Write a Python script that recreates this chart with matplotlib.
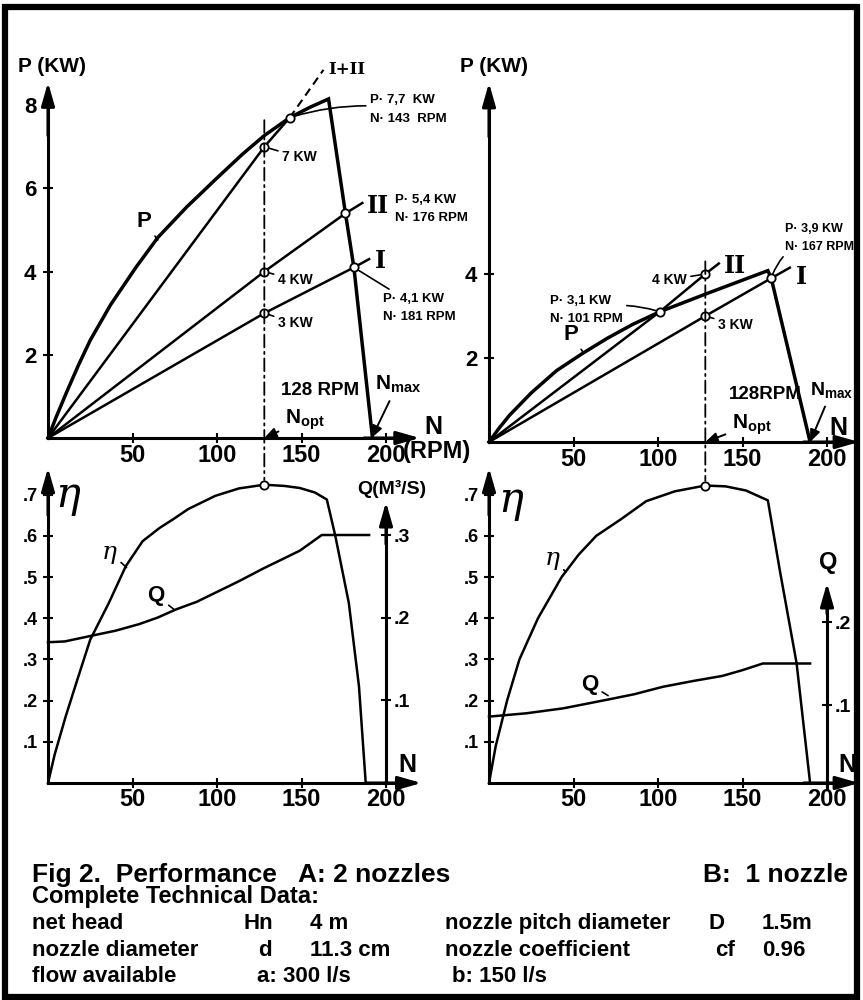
import matplotlib
matplotlib.use("Agg")
import matplotlib.pyplot as plt
from matplotlib.patches import ConnectionPatch, Rectangle

plt.rcParams["font.family"] = ["Liberation Sans", "DejaVu Sans"]
plt.rcParams["font.weight"] = "bold"
plt.rcParams["mathtext.fontset"] = "custom"
plt.rcParams["mathtext.rm"] = "Liberation Sans:bold"
plt.rcParams["mathtext.it"] = "Liberation Sans:bold"
plt.rcParams["mathtext.bf"] = "Liberation Sans:bold"

# ------------------------------------------------------------------ data
N_OPT = 128

# A: two nozzles -- shaft power P (kW) against speed N (RPM)
a_p_speed = [0, 5, 11, 18, 25, 37, 52, 65, 82, 100, 115, 128, 143, 155, 166, 176, 181, 192]
a_p_power = [0, 0.52, 1.10, 1.75, 2.35, 3.20, 4.10, 4.82, 5.55, 6.25, 6.82, 7.27, 7.70, 7.95, 8.15, 5.40, 4.10, 0]
a_one_speed = [0, 128, 181, 190]
a_one_power = [0, 3.0, 4.1, 4.3]
a_two_speed = [0, 128, 176, 186]
a_two_power = [0, 4.0, 5.4, 5.65]
a_sum_speed = [0, 128, 143]
a_sum_power = [0, 7.0, 7.7]
a_sum_ext_speed = [143, 163]
a_sum_ext_power = [7.7, 8.85]
a_mark_speed = [128, 143, 128, 176, 128, 181]
a_mark_power = [7.0, 7.7, 4.0, 5.4, 3.0, 4.1]

# A: efficiency and flow Q (m3/s)
a_eta_speed = [0, 4, 10.5, 18, 25, 36, 46, 56, 66, 74, 83, 99, 113, 128, 140, 149, 158, 165, 170, 178, 184, 188]
a_eta = [0, 0.07, 0.162, 0.259, 0.348, 0.437, 0.526, 0.587, 0.619, 0.640, 0.665, 0.697, 0.715, 0.724, 0.721, 0.716, 0.705, 0.688, 0.600, 0.437, 0.235, 0.0]
a_q_speed = [0, 10, 26, 40, 54, 65, 76, 88, 99, 113, 127, 138, 149, 162, 190]
a_q = [0.170, 0.171, 0.178, 0.184, 0.192, 0.200, 0.210, 0.219, 0.230, 0.244, 0.259, 0.270, 0.281, 0.300, 0.300]

# B: one nozzle -- shaft power
b_p_speed = [0, 6, 12, 25, 40, 55, 70, 85, 101, 128, 165, 167, 190]
b_p_power = [0, 0.33, 0.63, 1.17, 1.70, 2.10, 2.47, 2.80, 3.10, 3.52, 4.08, 3.90, 0]
b_one_speed = [0, 128, 167, 178]
b_one_power = [0, 3.0, 3.9, 4.15]
b_two_speed = [0, 101, 128, 136]
b_two_power = [0, 3.1, 4.0, 4.25]
b_mark_speed = [101, 128, 128, 167]
b_mark_power = [3.1, 4.0, 3.0, 3.9]

# B: efficiency and flow
b_eta_speed = [0, 4, 10.7, 18, 29, 43, 53, 63.5, 78, 93, 110, 128, 140, 152, 165, 172, 182, 190]
b_eta = [0, 0.09, 0.20, 0.30, 0.40, 0.50, 0.554, 0.60, 0.64, 0.684, 0.708, 0.722, 0.720, 0.710, 0.686, 0.518, 0.291, 0]
b_q_speed = [0, 22, 44, 69, 86, 103, 121, 138, 150, 162, 190]
b_q = [0.086, 0.090, 0.096, 0.106, 0.113, 0.122, 0.129, 0.135, 0.142, 0.150, 0.150]

speed_ticks = [50, 100, 150, 200]
power_ticks = [2, 4, 6, 8]
eta_ticks = [0.1, 0.2, 0.3, 0.4, 0.5, 0.6, 0.7]
eta_ticklabels = [".1", ".2", ".3", ".4", ".5", ".6", ".7"]

# ---------------------------------------------------------------- layout
W, H = 863, 1000
fig = plt.figure(figsize=(W / 100, H / 100), dpi=100)
fig.patch.set_facecolor("white")

LW_AXIS = 2.2
LW_THICK = 2.5
LW_THIN = 1.8


def axes_at(x0, xs, xlim, y0, ys, ylim):
    """Axes whose data origin sits at pixel (x0, y0) with xs/ys pixels per unit."""
    left = x0 + xs * xlim[0]
    right = x0 + xs * xlim[1]
    bottom = y0 - ys * ylim[0]
    top = y0 - ys * ylim[1]
    ax = fig.add_axes([left / W, 1 - bottom / H, (right - left) / W, (bottom - top) / H])
    ax.set_xlim(xlim)
    ax.set_ylim(ylim)
    ax.patch.set_visible(False)
    return ax, bottom, top


def arrow_head(ax, start, end):
    ax.annotate("", xy=end, xytext=start, annotation_clip=False,
                arrowprops=dict(arrowstyle="-|>,head_length=0.7,head_width=0.2",
                                color="k", lw=LW_AXIS, shrinkA=0, shrinkB=0,
                                mutation_scale=20))


def frame(ax, xmax, ymax, yticks, yticklabels, ysize, xpad, ypad):
    for s in ("top", "right"):
        ax.spines[s].set_visible(False)
    for s in ("left", "bottom"):
        ax.spines[s].set_position(("data", 0))
        ax.spines[s].set_linewidth(LW_AXIS)
    ax.spines["left"].set_bounds(0, ymax * 0.95)
    ax.spines["bottom"].set_bounds(0, xmax * 0.95)
    ax.set_xticks(speed_ticks)
    ax.set_xticklabels([str(v) for v in speed_ticks])
    ax.set_yticks(yticks)
    ax.set_yticklabels(yticklabels)
    ax.tick_params(direction="inout", length=7, width=1.5)
    ax.tick_params(axis="x", labelsize=17, pad=xpad)
    ax.tick_params(axis="y", labelsize=ysize, pad=ypad)
    arrow_head(ax, (0, ymax * 0.85), (0, ymax))
    arrow_head(ax, (xmax * 0.85, 0), (xmax, 0))


def flow_axis(ax, bottom_px, top_px, q0_px, q_scale, qmax, qticks, qlabels):
    axq = ax.twinx()
    axq.set_ylim((q0_px - bottom_px) / q_scale, (q0_px - top_px) / q_scale)
    for s in ("top", "left", "bottom"):
        axq.spines[s].set_visible(False)
    axq.spines["right"].set_position(("data", 200))
    axq.spines["right"].set_linewidth(LW_AXIS)
    axq.spines["right"].set_bounds(0, qmax * 0.93)
    axq.set_yticks(qticks)
    axq.set_yticklabels(qlabels)
    axq.tick_params(axis="y", direction="inout", length=7, width=1.5, labelsize=14, pad=2)
    arrow_head(axq, (200, qmax * 0.85), (200, qmax))
    return axq


def marks(ax, xs, ys):
    ax.plot(xs, ys, "o", ms=6, mfc="white", mec="k", mew=1.3, zorder=6, clip_on=False)


def leader(ax, text, xy, xytext, size=10, ha="left", va="center", rad=0.0, gap=3, **kw):
    ax.annotate(text, xy=xy, xytext=xytext, fontsize=size, ha=ha, va=va,
                annotation_clip=False,
                arrowprops=dict(arrowstyle="-", lw=1.2, color="k", shrinkA=1, shrinkB=gap,
                                connectionstyle=f"arc3,rad={rad}"), **kw)


def pointer(ax, text, xy, xytext, size=15):
    ax.annotate(text, xy=xy, xytext=xytext, fontsize=size, ha="center", va="center",
                annotation_clip=False,
                arrowprops=dict(arrowstyle="-|>,head_length=0.6,head_width=0.25", lw=1.4,
                                color="k", shrinkA=3, shrinkB=0, mutation_scale=12))


ROMAN = dict(family="DejaVu Serif", weight="bold")
ETA = dict(family="DejaVu Serif", style="italic", weight="normal")

# ------------------------------------------------- A: power (top left)
axA, _, _ = axes_at(48, 1.69, (-14, 226), 438, 41.6, (-0.55, 9.1))
frame(axA, 220, 8.55, power_ticks, [str(v) for v in power_ticks], 16, 1, 5)
axA.plot(a_p_speed, a_p_power, color="k", lw=LW_THICK, solid_joinstyle="miter")
axA.plot(a_one_speed, a_one_power, color="k", lw=LW_THIN)
axA.plot(a_two_speed, a_two_power, color="k", lw=LW_THIN)
axA.plot(a_sum_speed, a_sum_power, color="k", lw=LW_THIN)
axA.plot(a_sum_ext_speed, a_sum_ext_power, color="k", lw=1.5, ls=(0, (4, 2.5)))
marks(axA, a_mark_speed, a_mark_power)

axA.text(-17.5, 8.94, "P (KW)", fontsize=15, ha="left", va="center")
axA.text(177, 8.85, "I+II", fontsize=12, ha="center", va="center", **ROMAN)
leader(axA, "P", (65, 4.76), (57, 5.2), size=16, ha="center", gap=0)
leader(axA, "7 KW", (128, 7.0), (138.5, 6.75), size=10)
leader(axA, "4 KW", (128, 4.0), (136, 3.8), size=10)
leader(axA, "3 KW", (128, 3.0), (136, 2.76), size=10)
leader(axA, "P· 7,7  KW\nN· 143  RPM", (143, 7.7), (190.5, 7.9), size=9.5, rad=0.12,
       linespacing=1.7)
axA.text(195.3, 5.58, "II", fontsize=17, ha="center", va="center", **ROMAN)
axA.text(205.3, 5.5, "P· 5,4 KW\nN· 176 RPM", fontsize=9.5, ha="left", va="center",
         linespacing=1.7)
axA.text(197, 4.25, "I", fontsize=17, ha="center", va="center", **ROMAN)
leader(axA, "P· 4,1 KW\nN· 181 RPM", (181, 4.1), (198.2, 3.13), size=9.5, linespacing=1.7)
axA.text(161, 1.15, "128 RPM", fontsize=13.5, ha="center", va="center")
pointer(axA, r"N$_{\rm opt}$", (N_OPT, 0), (152, 0.45))
pointer(axA, r"N$_{\rm max}$", (191.5, 0), (207, 1.3))
axA.text(228, 0.27, "N", fontsize=18, ha="center", va="center")
axA.text(210, -0.33, "(RPM)", fontsize=17, ha="left", va="center", clip_on=False)

# ------------------------------------------------ B: power (top right)
axB, _, _ = axes_at(489, 1.69, (-14, 220), 442, 42, (-0.55, 9.1))
frame(axB, 219, 8.55, [2, 4], ["2", "4"], 16, 1, 5)
axB.plot(b_p_speed, b_p_power, color="k", lw=LW_THICK, solid_joinstyle="miter")
axB.plot(b_one_speed, b_one_power, color="k", lw=LW_THIN)
axB.plot(b_two_speed, b_two_power, color="k", lw=LW_THIN)
marks(axB, b_mark_speed, b_mark_power)

axB.text(-17.2, 8.93, "P (KW)", fontsize=15, ha="left", va="center")
axB.text(145.6, 4.19, "II", fontsize=17, ha="center", va="center", **ROMAN)
axB.text(184.6, 3.93, "I", fontsize=17, ha="center", va="center", **ROMAN)
leader(axB, "4 KW", (128, 4.0), (117, 3.86), size=10, ha="right")
leader(axB, "3 KW", (128, 3.0), (135.5, 2.79), size=10)
leader(axB, "P· 3,1 KW\nN· 101 RPM", (101, 3.1), (36, 3.14), size=9.5, rad=-0.15,
       linespacing=1.7)
leader(axB, "P· 3,9 KW\nN· 167 RPM", (167, 3.9), (175, 4.86), size=9, rad=0.3,
       linespacing=1.7)
leader(axB, "P", (56, 2.12), (48.5, 2.55), size=16, ha="center", gap=0)
axB.text(163.3, 1.12, "128RPM", fontsize=13.5, ha="center", va="center")
pointer(axB, r"N$_{\rm opt}$", (N_OPT, 0), (155.6, 0.42))
pointer(axB, r"N$_{\rm max}$", (190, 0), (203, 1.24), size=14)
axB.text(207, 0.33, "N", fontsize=18, ha="center", va="center")

# --------------------------------------- A: efficiency / flow (bottom left)
axC, c_bot, c_top = axes_at(48, 1.69, (-14, 226), 783, 412, (-0.03, 0.77))
frame(axC, 221, 0.765, eta_ticks, eta_ticklabels, 13, 0, 4)
axC.plot(a_eta_speed, a_eta, color="k", lw=LW_THIN)
marks(axC, [N_OPT], [0.724])
axCq = flow_axis(axC, c_bot, c_top, 782.5, 825, 0.34, [0.1, 0.2, 0.3], [".1", ".2", ".3"])
axCq.plot(a_q_speed, a_q, color="k", lw=LW_THIN)
axC.text(11.8, 0.70, "η", fontsize=30, ha="center", va="center", **ETA)
axC.text(203.6, 0.714, "Q(M³/S)", fontsize=14, ha="center", va="center")
leader(axC, "η", (46.5, 0.523), (36.5, 0.56), size=18, ha="center", gap=0, **ETA)
leader(axC, "Q", (75, 0.42), (64, 0.455), size=16, ha="center", gap=0)
axC.text(212.4, 0.044, "N", fontsize=18, ha="center", va="center")

# -------------------------------------- B: efficiency / flow (bottom right)
axD, d_bot, d_top = axes_at(489, 1.69, (-14, 220), 783, 412, (-0.03, 0.77))
frame(axD, 219, 0.765, eta_ticks, eta_ticklabels, 13, 0, 4)
axD.plot(b_eta_speed, b_eta, color="k", lw=LW_THIN)
marks(axD, [N_OPT], [0.722])
axDq = flow_axis(axD, d_bot, d_top, 788, 830, 0.247, [0.1, 0.2], [".1", ".2"])
axDq.plot(b_q_speed, b_q, color="k", lw=LW_THIN)
axD.text(13, 0.687, "η", fontsize=30, ha="center", va="center", **ETA)
axD.text(200.6, 0.534, "Q", fontsize=17, ha="center", va="center")
leader(axD, "η", (45.5, 0.512), (37.5, 0.545), size=18, ha="center", gap=0, **ETA)
leader(axD, "Q", (70.5, 0.212), (59.5, 0.24), size=16, ha="center", gap=0)
axD.text(211.8, 0.044, "N", fontsize=18, ha="center", va="center")

# -------------------------------------------- optimum-speed dash-dot lines
for top_ax, top_p, bot_ax, peak in ((axA, 7.64, axC, 0.724), (axB, 4.3, axD, 0.722)):
    con = ConnectionPatch(xyA=(N_OPT, top_p), coordsA=top_ax.transData,
                          xyB=(N_OPT, peak), coordsB=bot_ax.transData,
                          lw=1.3, color="k", linestyle=(0, (7, 2.5, 1.2, 2.5)),
                          shrinkA=0, shrinkB=3.5)
    fig.add_artist(con)

# --------------------------------------------------------------- captions
def caption(x, y, s, size=16):
    fig.text(x / W, 1 - y / H, s, fontsize=size, ha="left", va="baseline")


caption(32, 882, "Fig 2.  Performance   A: 2 nozzles", 19)
caption(703, 882, "B:  1 nozzle", 19)
caption(32, 903, "Complete Technical Data:", 17)
rows = [
    (929, "net head", "Hn", 243, "4 m", "nozzle pitch diameter", "D", 708, "1.5m"),
    (956, "nozzle diameter", "d", 258, "11.3 cm", "nozzle coefficient", "cf", 715, "0.96"),
]
for y, name, sym, xs, val, name2, sym2, xs2, val2 in rows:
    caption(32, y, name)
    caption(xs, y, sym)
    caption(310, y, val)
    caption(445, y, name2)
    caption(xs2, y, sym2)
    caption(762, y, val2)
caption(32, 982, "flow available")
caption(257, 982, "a: 300 l/s")
caption(452, 982, "b: 150 l/s")

fig.add_artist(Rectangle((5 / W, 1 - 997 / H), 852 / W, 990 / H, transform=fig.transFigure,
                         fill=False, lw=4.5, ec="k"))

fig.savefig("out.png", dpi=100)
